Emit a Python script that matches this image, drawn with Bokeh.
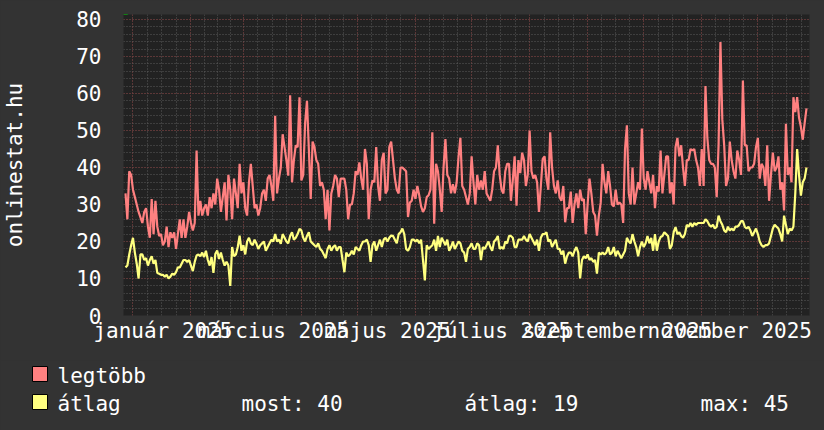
import pandas as pd
from bokeh.plotting import figure
from bokeh.models import Range1d, FixedTicker, Label
from bokeh.layouts import column
from bokeh.embed import file_html
from bokeh.resources import INLINE
from bokeh.core.properties import value

# ---------------- data (daily, starting 2024-12-28) ----------------
start_date = "2024-12-28"

legtobb = [
    33, 26, 39, 38, 34, 32, 30, 28, 26.5, 25,
    28, 29, 24, 21, 31.5, 22, 31, 24, 21.5, 22,
    19, 20, 24, 18.5, 22.5, 21, 22.5, 18, 22, 26,
    21, 26, 21, 24, 28, 25, 23, 25, 44.6, 27,
    31, 27, 29, 30, 27, 32, 29, 33, 30, 37,
    34, 28, 32, 36, 25.7, 38, 34, 26, 37, 33,
    29, 41, 33, 36, 29, 27, 36, 41, 35, 29,
    30, 27, 29, 33, 34, 31, 37, 38, 35, 31,
    54, 33, 37, 40, 49, 45.5, 42, 37.8, 59.5, 36,
    42, 46, 45.5, 59, 36.5, 38, 52, 58, 45, 31.5,
    47, 45.5, 42, 41, 35, 36, 34, 26, 34, 23,
    33, 35, 38, 37, 32, 37, 37, 37, 34, 26,
    30, 30, 33, 39, 38, 41.4, 37, 34, 45, 41,
    26, 34, 36.5, 36, 45.5, 35, 31, 42, 44, 33,
    34, 45.5, 47, 42, 37, 34, 33, 40, 40, 39.5,
    39, 26.6, 30.5, 31, 34, 31.5, 35, 32.5, 29.5, 28,
    29, 32, 32.5, 34, 49.5, 24.8, 41, 39, 34, 28,
    40, 47.7, 38, 37, 33, 35.5, 33, 36, 42.8, 48,
    35, 34, 32, 30, 33, 43, 36, 30, 38, 34,
    36.5, 34, 39, 33, 32, 31, 34, 39, 40, 46,
    38, 34, 33, 39, 41, 41, 31, 36.5, 43, 29.7,
    42, 38.5, 44, 42, 35, 38, 50, 39, 37, 38,
    36, 28, 35, 42.3, 43, 37, 34, 49.5, 40, 35,
    33, 36.5, 32, 31, 35, 25.2, 29, 29, 33.5, 25,
    30, 33, 29, 34, 31, 31.5, 22, 30, 37, 33,
    28, 27, 21.6, 27, 30.5, 41, 36, 33, 39, 35,
    30, 29.5, 34, 30, 30.5, 30, 25, 45, 51.4, 33,
    30, 40, 30, 33, 36, 34, 50.5, 37, 34, 39,
    36, 33, 38, 29, 35, 33.5, 44.6, 33, 38, 43,
    43, 33, 36, 30, 45.5, 48, 43, 46, 40, 35,
    42, 42, 45, 44.6, 45, 42, 40, 35, 45, 35,
    62, 48, 42, 41, 41, 40, 32, 46, 73.9, 53,
    46, 35, 37, 47, 42, 39, 37, 44.6, 42, 38,
    63.5, 46, 46, 39, 40, 40, 41, 45.5, 48, 37,
    41, 40, 35, 46, 31, 38, 44, 39, 40, 43,
    34, 36, 28.4, 51.8, 38, 40, 36, 59, 55, 59,
    53.5, 51, 47.5, 52, 56,
]

atlag = [
    13, 13.5, 16.5, 19, 21, 17, 14, 10, 16.5, 16.5,
    15, 15.5, 13.5, 15, 16, 14, 15, 11.5, 11.3, 11,
    11, 10.5, 11, 10, 10.5, 11.3, 11, 11.7, 13, 13,
    14, 15, 15, 14.5, 15, 13.5, 12, 14.5, 16.2, 16.5,
    16, 17, 15.8, 17.5, 15, 13.5, 15.8, 11.5, 16.6, 17.6,
    15.3, 17, 15, 13.5, 14.5, 13.5, 8, 18.5, 16, 16.5,
    18.5, 21.6, 17.5, 19, 16.5, 20, 21, 19.5, 19, 20.5,
    19.4, 18, 19, 19.5, 20, 17.5, 18.5, 19.5, 20.5, 20,
    22, 20, 20.5, 19.4, 22, 21, 20, 19.5, 21.5, 22.5,
    20.5, 21, 22, 23.4, 23, 21, 20, 21.5, 22.5, 20,
    19.5, 19, 18.5, 19.5, 18, 17.5, 16.5, 15.5, 18, 19,
    17.5, 18.5, 19, 17.5, 18.5, 18.5, 15, 11.7, 17, 16,
    16.5, 17.5, 16.5, 18.5, 18, 17.5, 19, 20, 20, 20.5,
    19, 14.5, 19, 20, 17.5, 19, 20.5, 18.5, 20.5, 21,
    20, 21, 21.6, 21.5, 20.5, 19.5, 22, 22.5, 23.5, 22,
    18, 17.5, 18.5, 20.5, 20.5, 20, 20.5, 19.5, 20.5, 15,
    9.5, 19, 18, 18.5, 19, 20.5, 17.5, 21.5, 18.5, 21,
    20, 19, 20.5, 17.5, 18.5, 20, 18, 19, 20, 19.5,
    17.5, 17, 14.5, 18, 18.5, 19.5, 18, 18, 19.5, 19,
    15, 18.5, 18, 19, 20, 18.5, 17.5, 20, 20.5, 21.5,
    18, 18.5, 18, 20, 19.5, 21.5, 21.5, 21, 18.5, 18.5,
    20.5, 20.5, 20.5, 21.5, 20.5, 20, 22, 21, 20, 19,
    20.5, 17.5, 21, 22, 22, 22.5, 20, 20.5, 18.5, 19.5,
    20.5, 18, 18, 16.5, 17.5, 14, 16, 17, 17, 16,
    17.5, 18.5, 17, 10, 15, 16, 15.5, 16.5, 15, 15.5,
    14.5, 15, 11.3, 17, 16.5, 17, 16.5, 17, 18.5, 16.5,
    17, 18.5, 16, 17.5, 16.5, 15.5, 16.5, 17.5, 21, 20,
    19.5, 22, 20, 18.5, 16, 18.5, 20, 18.5, 19.5, 21.5,
    19.5, 21, 17.5, 22, 17.5, 20, 21.2, 21.5, 22.5, 22,
    21.5, 18, 19, 22.5, 23.9, 22, 22.5, 21.5, 21, 22,
    24.5, 24, 25, 24, 25, 24.5, 25, 25, 25, 25,
    26, 25.5, 24.5, 24, 24.5, 23.5, 24, 27, 25.5, 24.5,
    23, 22.5, 24, 23, 23.5, 23, 24, 24, 24.5, 25.5,
    25.5, 24, 23.5, 24, 23, 21.5, 22.5, 23.5, 22, 20,
    19, 18.5, 19, 19, 19.5, 21.5, 23.5, 24.5, 24, 23.5,
    22, 20, 27, 24.5, 22, 23.5, 23, 24, 33, 45,
    38, 32.4, 36, 37, 40,
]

y_ticks = [0, 10, 20, 30, 40, 50, 60, 70, 80]
x_label_months = ["2025-01-01", "2025-03-01", "2025-05-01", "2025-07-01", "2025-09-01", "2025-11-01"]
x_label_texts = ["január 2025", "március 2025", "május 2025", "július 2025", "szeptember 2025", "november 2025"]
series_names = ["legtöbb", "átlag"]
series_colors = ["#FF8080", "#FFFF80"]
y_title = "onlinestat.hu"

FONT = "DejaVu Sans Mono"
FS = "21px"
TXT = "#FFFFFF"

ref = pd.Timestamp("2025-01-01")
def day(ts):
    return (pd.Timestamp(ts) - ref) / pd.Timedelta(days=1)

dates = pd.date_range(start_date, periods=len(legtobb), freq="D")
xs = [day(d) for d in dates]

# grid: month starts (major) and quarter-month lines (minor)
month_starts = pd.date_range("2024-12-01", "2026-01-01", freq="MS")
ms_days = [day(m) for m in month_starts]
minor_days = []
for a, b in zip(ms_days[:-1], ms_days[1:]):
    for k in range(4):
        minor_days.append(a + k * (b - a) / 4)

label_pos = [int(round(day(m) + 16)) for m in x_label_months]
label_pos[-1] -= 1

W = 824
FRAME_W, FRAME_H = 686, 301
BL, BR, BT, BB = 123, 15, 14, 45
H1 = BT + FRAME_H + BB
H2 = 430 - H1

p = figure(frame_width=FRAME_W, frame_height=FRAME_H, output_backend="svg", toolbar_location=None,
           x_range=Range1d(-5.07, 361.6), y_range=Range1d(0, 81.35),
           min_border_left=BL, min_border_right=BR, min_border_top=BT, min_border_bottom=BB)
p.frame_align = False
p.background_fill_color = "#222222"
p.border_fill_color = "#333333"
p.outline_line_color = None

# grids
p.xgrid.ticker = FixedTicker(ticks=ms_days, minor_ticks=minor_days)
p.ygrid.ticker = FixedTicker(ticks=y_ticks, minor_ticks=list(range(0, 82, 2)))
for g in (p.xgrid, p.ygrid):
    g.grid_line_color = "#7a3030"
    g.grid_line_dash = "1 2"
    g.grid_line_width = 1
    g.minor_grid_line_color = "#5a5a5a"
    g.minor_grid_line_dash = "1 2"
    g.minor_grid_line_width = 1

# axes
p.yaxis.ticker = FixedTicker(ticks=y_ticks)
p.xaxis.ticker = FixedTicker(ticks=label_pos)
p.xaxis.major_label_overrides = {pos: t for pos, t in zip(label_pos, x_label_texts)}
for ax in (p.xaxis, p.yaxis):
    ax.axis_line_color = None
    ax.major_tick_line_color = None
    ax.minor_tick_line_color = None
    ax.major_label_text_font = FONT
    ax.major_label_text_font_size = FS
    ax.major_label_text_color = TXT
p.yaxis.major_label_standoff = 16
p.xaxis.major_label_standoff = -3
p.yaxis.axis_label = y_title
p.yaxis.axis_label_text_font = FONT
p.yaxis.axis_label_text_font_size = FS
p.yaxis.axis_label_text_font_style = "normal"
p.yaxis.axis_label_text_color = TXT
p.yaxis.axis_label_standoff = 46

p.line(xs, legtobb, line_color=series_colors[0], line_width=2.2)
p.line(xs, atlag, line_color=series_colors[1], line_width=2.2)

# small green axis arrows (frame-relative screen units)
p.add_layout(Label(x=2, y=FRAME_H + 3, x_units="screen", y_units="screen", text="▲",
                   text_font_size="9px", text_color="#00CC00", text_align="center",
                   text_baseline="middle"))
p.add_layout(Label(x=FRAME_W + 4.5, y=1, x_units="screen", y_units="screen", text="▶",
                   text_font_size="9px", text_color="#00CC00", text_align="center",
                   text_baseline="middle"))

# legend / stats panel
q = figure(width=W, height=H2, output_backend="svg", toolbar_location=None,
           x_range=Range1d(0, W), y_range=Range1d(H2, 0), min_border=0)
q.frame_align = False
q.axis.visible = False
q.grid.visible = False
q.outline_line_color = None
q.background_fill_color = "#333333"
q.border_fill_color = "#333333"

square_bottom = [381 - H1, 409 - H1]
text_base = [b - 6 for b in square_bottom]
q.rect(x=[39.5, 39.5], y=[b - 7.5 for b in square_bottom], width=15, height=15,
       fill_color=series_colors, line_color="#000000", line_width=1)
q.text(x=[57, 57], y=text_base, text=series_names, text_font=value(FONT),
       text_font_size=FS, text_color=TXT, text_baseline="alphabetic")

most = atlag[-1]
avg = sum(atlag) / len(atlag)
mx = max(atlag)
stats = [f"most: {most:.0f}", f"átlag: {avg:.0f}", f"max: {mx:.0f}"]
q.text(x=[241, 464, 700], y=[text_base[1]] * 3, text=stats, text_font=value(FONT),
       text_font_size=FS, text_color=TXT, text_baseline="alphabetic")

layout = column(p, q, spacing=0)
layout.styles = {"background-color": "#333333"}

open("out.html", "w").write(file_html(layout, INLINE))
